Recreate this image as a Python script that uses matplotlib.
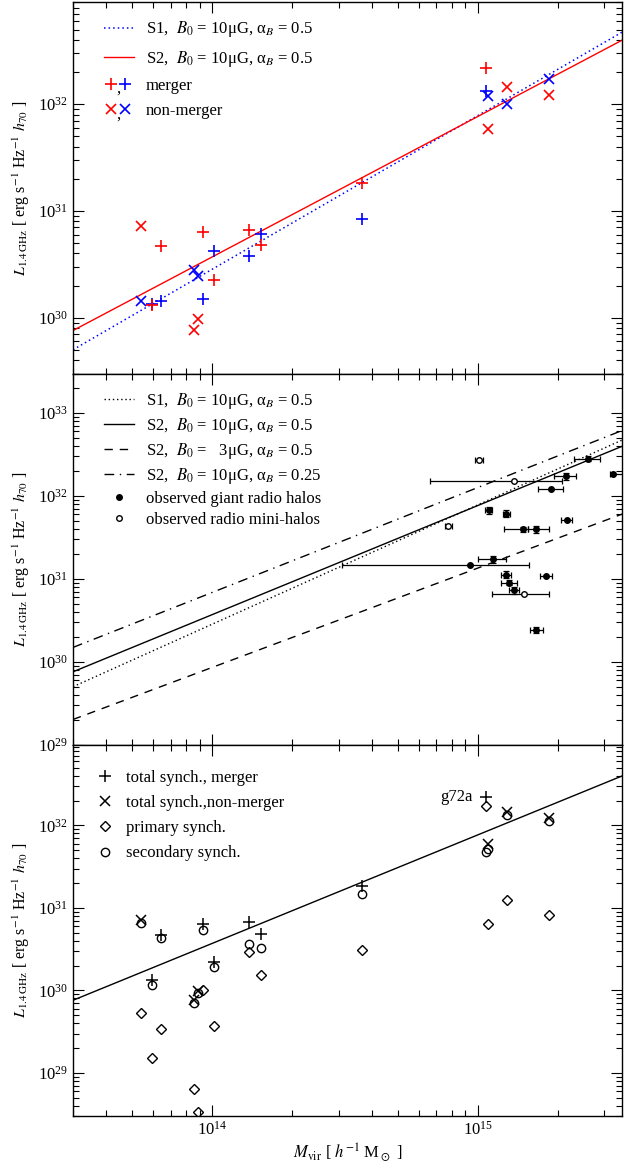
import numpy as np
import matplotlib
matplotlib.use('Agg')
import matplotlib.pyplot as plt
from matplotlib.lines import Line2D
from matplotlib.text import Text
from matplotlib.legend_handler import HandlerBase

plt.rcParams['font.family'] = ['Liberation Serif', 'DejaVu Serif']
plt.rcParams['mathtext.fontset'] = 'stix'
plt.rcParams['font.size'] = 10

# simulated clusters (log10 values)
logM = np.array([13.734, 13.775, 13.809, 13.932, 13.947, 13.966, 14.009,
                 14.141, 14.185, 14.566, 15.032, 15.038, 15.112, 15.268])
merger = np.array([0, 1, 1, 0, 0, 1, 1, 1, 1, 1, 1, 0, 0, 0], dtype=bool)
# total synchrotron, model S2 (red) and S1 (blue)
logL_S2 = np.array([30.855, 30.12, 30.675, 29.888, 29.99, 30.80, 30.35,
                    30.826, 30.68, 31.26, 32.34, 31.77, 32.16, 32.085])
logL_S1 = np.array([30.153, 30.13, 30.153, 30.444, 30.39, 30.175, 30.625,
                    30.575, 30.788, 30.928, 32.12, 32.075, 32.0, 32.234])
# primary / secondary synchrotron contributions (S2)
logL_prim = np.array([29.72, 29.18, 29.53, 28.81, 28.53, 30.0, 29.565,
                      30.467, 30.19, 30.484, 32.236, 30.806, 31.10, 30.908])
logL_sec = np.array([30.818, 30.063, 30.637, 29.85, 29.972, 30.73, 30.282,
                     30.566, 30.512, 31.169, 31.673, 31.718, 32.121, 32.052])

# scaling relations, end points
logM_fit = np.array([13.477, 15.544])
fit_S1 = np.array([29.70, 32.675])
fit_S2 = np.array([29.88, 32.60])
fit_S2_B3 = np.array([29.305, 31.782])
fit_S2_a025 = np.array([30.174, 32.79])

# observed giant radio halos
gh_logM = np.array([15.414, 15.332, 15.509, 15.276, 15.041, 15.108, 15.335, 15.169,
                    15.221, 15.058, 14.971, 15.108, 15.257, 15.120, 15.138, 15.221])
gh_logL = np.array([32.45, 32.237, 32.27, 32.089, 31.828, 31.788, 31.716, 31.60,
                    31.60, 31.237, 31.173, 31.053, 31.036, 30.952, 30.864, 30.382])
gh_lo = np.array([15.364, 15.289, 15.499, 15.226, 15.029, 15.095, 15.315, 15.099,
                  15.19, 15.0, 14.491, 15.089, 15.236, 15.089, 15.119, 15.196])
gh_hi = np.array([15.459, 15.370, 15.60, 15.323, 15.056, 15.123, 15.357, 15.19,
                  15.268, 15.108, 15.194, 15.127, 15.280, 15.150, 15.157, 15.248])
gh_dL = np.array([0.03, 0.04, 0, 0, 0.04, 0.04, 0, 0.03,
                  0.04, 0.04, 0, 0.04, 0, 0.03, 0.04, 0.04])
# observed radio mini-halos
mh_logM = np.array([15.0045, 15.136, 14.89, 15.174])
mh_logL = np.array([32.43, 32.177, 31.643, 30.82])
mh_lo = np.array([14.99, 14.82, 14.877, 15.055])
mh_hi = np.array([15.02, 15.316, 14.905, 15.268])

M = 10**logM
Mf = 10**logM_fit


class HandlerPair(HandlerBase):
    # two markers separated by a comma, like "+,+"
    def create_artists(self, legend, orig_handle, xdescent, ydescent,
                       width, height, fontsize, trans):
        h1, h2 = orig_handle
        y = height / 2 - ydescent
        out = []
        for h, fx in ((h1, 0.22), (h2, 0.68)):
            out.append(Line2D([fx * width - xdescent], [y], ls='none',
                              marker=h.get_marker(), color=h.get_color(),
                              ms=h.get_markersize(), mew=h.get_markeredgewidth(),
                              transform=trans))
        out.append(Text(0.47 * width - xdescent, y - 0.45 * height, ',',
                        fontsize=fontsize, ha='center', va='center',
                        transform=trans))
        return out


fig, (ax1, ax2, ax3) = plt.subplots(3, 1, sharex=True, figsize=(6.24, 11.62), dpi=100)
fig.subplots_adjust(left=0.117, right=0.997, top=0.998, bottom=0.0396, hspace=0)

lab1 = 'S1,  $B_0$ = 10μG, α$_B$ = 0.5'
lab2 = 'S2,  $B_0$ = 10μG, α$_B$ = 0.5'
lab3 = 'S2,  $B_0$ =   3μG, α$_B$ = 0.5'
lab4 = 'S2,  $B_0$ = 10μG, α$_B$ = 0.25'
dot = (0, (1, 2))
legfs = 12

# ---- panel 1
l1, = ax1.plot(Mf, 10**fit_S1, color='blue', ls=dot, lw=1.1)
l2, = ax1.plot(Mf, 10**fit_S2, color='red', lw=1.0)
ax1.plot(M[merger], 10**logL_S1[merger], ls='none', marker='+', color='blue', ms=8, mew=1.2)
ax1.plot(M[~merger], 10**logL_S1[~merger], ls='none', marker='x', color='blue', ms=6.5, mew=1.2)
ax1.plot(M[merger], 10**logL_S2[merger], ls='none', marker='+', color='red', ms=8, mew=1.2)
ax1.plot(M[~merger], 10**logL_S2[~merger], ls='none', marker='x', color='red', ms=6.5, mew=1.2)
pr = Line2D([], [], ls='none', marker='+', color='red', ms=8, mew=1.2)
pb = Line2D([], [], ls='none', marker='+', color='blue', ms=8, mew=1.2)
xr = Line2D([], [], ls='none', marker='x', color='red', ms=6.5, mew=1.2)
xb = Line2D([], [], ls='none', marker='x', color='blue', ms=6.5, mew=1.2)
ax1.legend([l1, l2, (pr, pb), (xr, xb)], [lab1, lab2, 'merger', 'non-merger'],
           handler_map={tuple: HandlerPair()}, loc='upper left',
           bbox_to_anchor=(0.045, 0.972), borderaxespad=0, frameon=False,
           handlelength=1.8, handletextpad=0.7, labelspacing=0.55, fontsize=legfs)
ax1.set_ylim(3e29, 9e32)

# ---- panel 2
d1, = ax2.plot(Mf, 10**fit_S1, color='black', ls=dot, lw=1.0)
d2, = ax2.plot(Mf, 10**fit_S2, color='black', lw=1.0)
d3, = ax2.plot(Mf, 10**fit_S2_B3, color='black', ls=(0, (6, 5)), lw=1.0)
d4, = ax2.plot(Mf, 10**fit_S2_a025, color='black', ls=(0, (7, 4, 1, 4)), lw=1.0)
gm = 10**gh_logM
gl = 10**gh_logL
ax2.errorbar(gm, gl, xerr=[gm - 10**gh_lo, 10**gh_hi - gm],
             yerr=[gl - 10**(gh_logL - gh_dL), 10**(gh_logL + gh_dL) - gl],
             fmt='o', color='black', ms=4, capsize=2.5, elinewidth=0.9, capthick=0.9)
mm = 10**mh_logM
ml = 10**mh_logL
ax2.errorbar(mm, ml, xerr=[mm - 10**mh_lo, 10**mh_hi - mm],
             fmt='o', color='black', mfc='white', ms=4, capsize=2.5,
             elinewidth=0.9, capthick=0.9)
hg = Line2D([], [], ls='none', marker='o', color='black', ms=4)
hm = Line2D([], [], ls='none', marker='o', color='black', mfc='white', ms=4)
ax2.legend([d1, d2, d3, d4, hg, hm],
           [lab1, lab2, lab3, lab4, 'observed giant radio halos', 'observed radio mini-halos'],
           loc='upper left', bbox_to_anchor=(0.045, 0.972), borderaxespad=0, frameon=False,
           handlelength=1.8, handletextpad=0.7, labelspacing=0.3, fontsize=legfs)
ax2.set_ylim(1e29, 3e33)

# ---- panel 3
ax3.plot(Mf, 10**fit_S2, color='black', lw=1.0)
t1, = ax3.plot(M[merger], 10**logL_S2[merger], ls='none', marker='+', color='black', ms=8, mew=1.1)
t2, = ax3.plot(M[~merger], 10**logL_S2[~merger], ls='none', marker='x', color='black', ms=6.5, mew=1.1)
t3, = ax3.plot(M, 10**logL_prim, ls='none', marker='D', color='black', mfc='none', ms=5.5, mew=1.0)
t4, = ax3.plot(M, 10**logL_sec, ls='none', marker='o', color='black', mfc='none', ms=6, mew=1.0)
ax3.legend([t1, t2, t3, t4],
           ['total synch., merger', 'total synch.,non-merger', 'primary synch.', 'secondary synch.'],
           loc='upper left', bbox_to_anchor=(0.033, 0.95), borderaxespad=0, frameon=False,
           handlelength=0.9, handletextpad=0.8, labelspacing=0.55, fontsize=legfs)
g = np.argmax(logL_S2)
ax3.text(M[g] / 1.12, 10**logL_S2[g], 'g72a', ha='right', va='center', fontsize=legfs)
ax3.set_ylim(3e28, 9.5e32)

ylab = r'$L_{1.4\,\mathrm{GHz}}$ [ erg s$^{-1}$ Hz$^{-1}$ $h_{70}$ ]'
for ax in (ax1, ax2, ax3):
    ax.set_xscale('log')
    ax.set_yscale('log')
    ax.set_xlim(10**logM_fit[0], 10**logM_fit[1])
    ax.tick_params(which='both', direction='in', top=True, right=True, width=0.8, labelsize=12)
    ax.tick_params(which='major', length=8)
    ax.tick_params(which='minor', length=4.5)
    for s in ax.spines.values():
        s.set_linewidth(1.0)
    ax.set_ylabel(ylab, fontsize=11.5)
    ax.yaxis.set_label_coords(-0.075, 0.5)

ax3.set_xlabel(r'$M_\mathrm{vir}$ [ $h^{-1}$ M$_\odot$ ]', fontsize=12, labelpad=2)

fig.savefig('out.png', dpi=100)
